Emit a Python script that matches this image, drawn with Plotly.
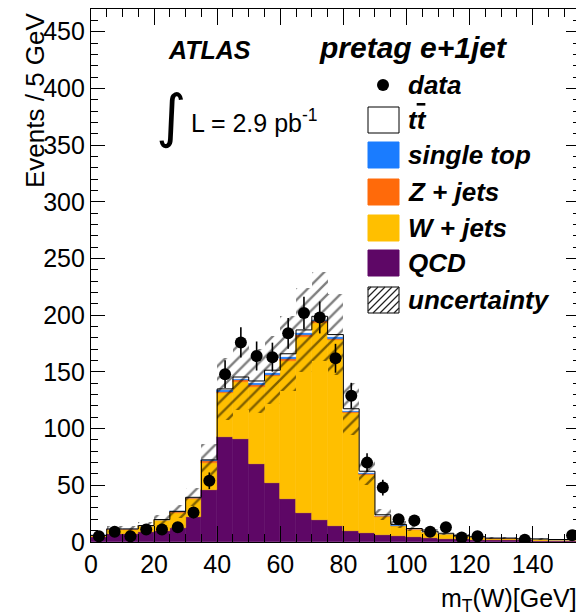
import numpy as np
import plotly.graph_objects as go

# ---------------- data ----------------
bin_centers = [2.5, 7.5, 12.5, 17.5, 22.5, 27.5, 32.5, 37.5, 42.5, 47.5,
               52.5, 57.5, 62.5, 67.5, 72.5, 77.5, 82.5, 87.5, 92.5, 97.5,
               102.5, 107.5, 112.5, 117.5, 122.5, 127.5, 132.5, 137.5, 142.5, 147.5, 152.5]

data_counts = [5, 9, 5, 11, 11, 13, 26, 54, 148, 176, 164, 163, 184, 202, 198, 162,
               129, 70, 48, 20, 19, 9, 13, 4, 5, 0, 0, 2, 0, 0, 6]

qcd = [4.5, 7, 7, 8.5, 10, 12, 22, 46, 93, 91, 69, 52, 38, 26, 19, 14,
       9.5, 7.5, 6, 5, 4.3, 3.5, 3, 2.5, 2, 2, 1.5, 1.5, 1, 1, 1]
wjets = [1, 4, 4, 5.5, 9, 14, 16, 24, 38, 50, 68, 94, 122, 155, 174, 164,
         104, 52, 16, 9, 6.5, 5, 4, 2.5, 2, 1, 1.5, 1, 1.5, 1, 1]
zjets = [0.3, 0.5, 0.5, 0.5, 0.6, 0.8, 1, 1.5, 1.5, 1.5, 1.5, 1.5, 1.5, 1.5, 1.5, 1.2,
         1, 0.8, 0.6, 0.4, 0.3, 0.3, 0.2, 0.2, 0.2, 0.1, 0.1, 0.1, 0.1, 0.1, 0.1]
single_top = [0, 0, 0, 0, 0.1, 0.1, 0.2, 0.4, 1.5, 1.5, 1.5, 1.5, 1.5, 1.5, 1.5, 1.2,
              1, 0.6, 0.4, 0.3, 0.2, 0.2, 0.1, 0.1, 0.1, 0.1, 0.1, 0, 0, 0, 0]
ttbar = [0, 0, 0, 0, 0.1, 0.1, 0.2, 0.5, 1, 1.5, 2, 2.5, 3, 3, 3, 2.5,
         2, 1.5, 1, 0.8, 0.6, 0.5, 0.4, 0.3, 0.3, 0.2, 0.2, 0.2, 0.1, 0.1, 0.1]
uncertainty = [1.5, 2.5, 2.5, 3, 4, 5.5, 8, 14, 27, 29, 28, 30, 33, 37, 39, 36,
               23, 12, 5, 3, 2.5, 2, 1.5, 1.2, 1, 0.8, 0.8, 0.6, 0.6, 0.5, 0.5]

x_ticks = [0, 20, 40, 60, 80, 100, 120, 140]
y_ticks = [0, 50, 100, 150, 200, 250, 300, 350, 400, 450]

# ---------------- styling ----------------
W, H = 584, 616
OFF = 8  # default body margin of the html page
# plot area in screen pixels
SX0, SX1, SY0, SY1 = 91, 580, 9, 542
PW, PH = SX1 - SX0, SY1 - SY0
BIN_W = 5
FONT = "Liberation Sans"

components = [
    ("QCD", qcd, "#5e0766"),
    ("W + jets", wjets, "#ffbf00"),
    ("Z + jets", zjets, "#ff6a0a"),
    ("single top", single_top, "#1a7cff"),
    ("tt", ttbar, "#ffffff"),
]

x = np.array(bin_centers)
fig = go.Figure()

base = np.zeros(len(x))
for name, vals, col in components:
    v = np.array(vals, dtype=float)
    fig.add_trace(go.Bar(
        x=x, y=v, base=base.copy(), width=BIN_W, name=name,
        marker=dict(color=col, line=dict(color=col, width=0.6)),
        showlegend=False, hoverinfo="skip"))
    base = base + v
total = base

# black outline of the total stack
edges_x = list(x - BIN_W / 2) + [x[-1] + BIN_W / 2]
edges_y = list(total) + [total[-1]]
fig.add_trace(go.Scatter(x=edges_x, y=edges_y, mode="lines",
                         line=dict(color="black", width=1, shape="hv"),
                         showlegend=False, hoverinfo="skip"))

# hatched uncertainty band
unc = np.array(uncertainty)
fig.add_trace(go.Bar(
    x=x, y=2 * unc, base=total - unc, width=BIN_W,
    marker=dict(color="rgba(0,0,0,0)", line=dict(width=0),
                pattern=dict(shape="/", fgcolor="#000000", bgcolor="rgba(0,0,0,0)",
                             size=9, solidity=0.26, fillmode="overlay")),
    showlegend=False, hoverinfo="skip"))

# data points
d = np.array(data_counts, dtype=float)
mask = d > 0
fig.add_trace(go.Scatter(
    x=x[mask], y=d[mask], mode="markers",
    marker=dict(color="black", size=12),
    error_y=dict(type="data", array=np.sqrt(d[mask]), width=0, thickness=1.6, color="black"),
    showlegend=False, hoverinfo="skip"))

# ---------------- annotations / manual legend ----------------
def px(xp):
    return (xp - SX0) / PW

def py(yp):
    return (SY1 - yp) / PH

ann = []
shapes = []
bi = dict(family=FONT, size=26, color="black", weight="bold", style="italic")

ann.append(dict(text="Events / 5 GeV", textangle=-90, x=px(35), y=py(10),
                xref="paper", yref="paper", xanchor="center", yanchor="top",
                showarrow=False, font=dict(family=FONT, size=26, color="black")))
ann.append(dict(text="m<sub>T</sub>(W)[GeV]", x=px(579), y=py(600),
                xref="paper", yref="paper", xanchor="right", yanchor="middle",
                showarrow=False, font=dict(family=FONT, size=25, color="black")))
ann.append(dict(text="ATLAS", x=px(166), y=py(50), xref="paper", yref="paper",
                xanchor="left", yanchor="middle", showarrow=False,
                font=dict(family=FONT, size=25, color="black", weight="bold", style="italic")))
ann.append(dict(text="pretag e+1jet", x=px(317), y=py(47), xref="paper", yref="paper",
                xanchor="left", yanchor="middle", showarrow=False,
                font=dict(family=FONT, size=30, color="black", weight="bold", style="italic")))
ann.append(dict(text="∫", x=px(171), y=py(116), xref="paper", yref="paper",
                xanchor="center", yanchor="middle", showarrow=False,
                font=dict(family="DejaVu Sans", size=58, color="black")))
ann.append(dict(text="L = 2.9 pb<sup>-1</sup>", x=px(189), y=py(121), xref="paper", yref="paper",
                xanchor="left", yanchor="middle", showarrow=False,
                font=dict(family=FONT, size=25, color="black")))

legend_rows = [
    ("data", 85, None),
    ("t<span style='text-decoration:overline'>t</span>", 120, "#ffffff"),
    ("single top", 155, "#1a7cff"),
    ("Z + jets", 192, "#ff6a0a"),
    ("W + jets", 228, "#ffbf00"),
    ("QCD", 263, "#5e0766"),
    ("uncertainty", 300, "hatch"),
]
bx0, bx1 = 368, 399
for label, yc, col in legend_rows:
    ann.append(dict(text=label, x=px(406), y=py(yc), xref="paper", yref="paper",
                    xanchor="left", yanchor="middle", showarrow=False, font=bi))
    y0, y1 = yc - 13, yc + 13
    if col is None:
        shapes.append(dict(type="circle", xref="paper", yref="paper",
                           x0=px(383 - 6), x1=px(383 + 6), y0=py(yc + 6), y1=py(yc - 6),
                           fillcolor="black", line=dict(color="black", width=0)))
    elif col == "hatch":
        shapes.append(dict(type="rect", xref="paper", yref="paper",
                           x0=px(bx0), x1=px(bx1), y0=py(y1), y1=py(y0),
                           fillcolor="white", line=dict(color="black", width=1)))
        path = ""
        step = 7
        for k in range(-30, 32, step):
            xa, ya = bx0 + k, y1
            xb, yb = xa + (y1 - y0), y0
            if xa < bx0:
                ya = ya - (bx0 - xa); xa = bx0
            if xb > bx1:
                yb = yb + (xb - bx1); xb = bx1
            if xa >= xb:
                continue
            path += f"M{px(xa)},{py(ya)} L{px(xb)},{py(yb)} "
        shapes.append(dict(type="path", xref="paper", yref="paper", path=path,
                           line=dict(color="#222222", width=1.2)))
    else:
        lc = "black" if col == "#ffffff" else col
        shapes.append(dict(type="rect", xref="paper", yref="paper",
                           x0=px(bx0), x1=px(bx1), y0=py(y1), y1=py(y0),
                           fillcolor=col, line=dict(color=lc, width=1)))

tickfont = dict(family=FONT, size=25, color="black")
fig.update_layout(
    width=W, height=H,
    margin=dict(l=SX0 - OFF, r=(W + OFF) - SX1, t=SY0 - OFF, b=(H + OFF) - SY1, pad=0, autoexpand=False),
    paper_bgcolor="white", plot_bgcolor="white",
    barmode="overlay", bargap=0,
    showlegend=False,
    annotations=ann, shapes=shapes,
    xaxis=dict(range=[0, 155], tickvals=x_ticks, ticktext=[str(v) for v in x_ticks],
               ticks="inside", ticklen=16, tickwidth=1, tickcolor="black",
               minor=dict(dtick=5, tick0=0, ticks="inside", ticklen=8, tickcolor="black", tickwidth=1),
               showline=True, linecolor="black", linewidth=1.2, mirror="ticks",
               showgrid=False, zeroline=False, tickfont=tickfont, automargin=False),
    yaxis=dict(range=[0, 470], tickvals=y_ticks, ticktext=[str(v) for v in y_ticks],
               ticks="inside", ticklen=14, tickwidth=1, tickcolor="black",
               minor=dict(dtick=10, tick0=0, ticks="inside", ticklen=7, tickcolor="black", tickwidth=1),
               showline=True, linecolor="black", linewidth=1.2, mirror="ticks",
               showgrid=False, zeroline=False, tickfont=tickfont, automargin=False),
)

fig.write_html("out.html")
